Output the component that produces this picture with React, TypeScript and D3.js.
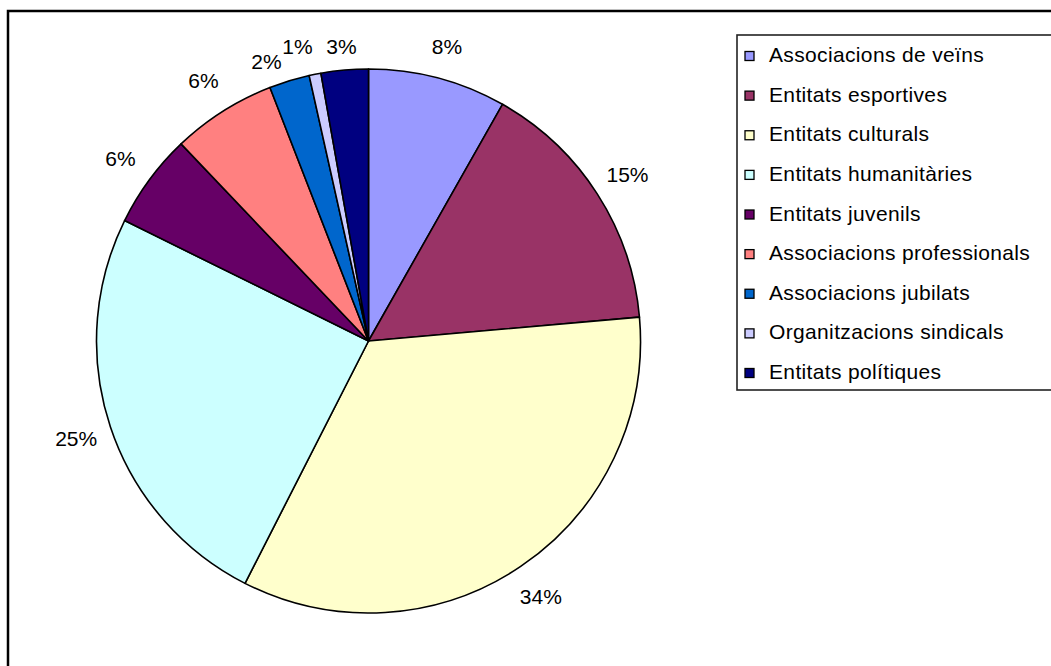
import React from "react";
import * as d3 from "d3";

const categories = [
  "Associacions de veïns",
  "Entitats esportives",
  "Entitats culturals",
  "Entitats humanitàries",
  "Entitats juvenils",
  "Associacions professionals",
  "Associacions jubilats",
  "Organitzacions sindicals",
  "Entitats polítiques",
];

const values = [8.2, 15.4, 33.9, 24.8, 5.6, 6.2, 2.4, 0.7, 2.8];

const colors = [
  "#9999FF",
  "#993366",
  "#FFFFCC",
  "#CCFFFF",
  "#660066",
  "#FF8080",
  "#0066CC",
  "#CCCCFF",
  "#000080",
];

const W = 1051;
const H = 666;
const cx = 368.5;
const cy = 341;
const R = 272;
const labelR = 308;
const labelTop = -294.5;
const FONT = "'Liberation Sans', Arial, Helvetica, sans-serif";

export default function App() {
  const total = d3.sum(values);
  const pie = d3
    .pie<number>()
    .sort(null)
    .value((d) => d)
    .startAngle(0)
    .endAngle(2 * Math.PI);
  const arcs = pie(values);
  const arcGen = d3.arc<d3.PieArcDatum<number>>().innerRadius(0).outerRadius(R);

  const legendY = d3
    .scaleLinear()
    .domain([0, categories.length - 1])
    .range([55, 372]);

  const labels = arcs.map((a, i) => {
    const mid = (a.startAngle + a.endAngle) / 2;
    const x = Math.sin(mid) * labelR;
    const y = Math.max(labelTop, -Math.cos(mid) * labelR);
    return { x, y, moved: false, text: Math.round((values[i] / total) * 100) + "%" };
  });
  // simple collision handling for crowded top labels
  for (let i = labels.length - 1; i > 0; i--) {
    const a = labels[i - 1];
    const b = labels[i];
    const dx = b.x - a.x;
    const dy = Math.abs(a.y - b.y);
    if (dy < 16 && dx < 42 && dx > -5) {
      if (dy < 1 && !b.moved) {
        a.x = b.x - 44;
      } else {
        a.y = b.y + 15;
        a.x = Math.min(a.x, b.x - 31);
      }
      a.moved = true;
    }
  }

  return (
    <svg
      width={W}
      height={H}
      style={{ position: "fixed", left: 0, top: 0, background: "#fff" }}
    >
      <rect x={0} y={0} width={W} height={H} fill="#fff" />
      <rect
        x={8}
        y={11}
        width={W + 50}
        height={H + 50}
        fill="none"
        stroke="#000"
        strokeWidth={2.5}
      />
      <g transform={`translate(${cx},${cy})`}>
        {arcs.map((a, i) => (
          <path
            key={i}
            d={arcGen(a) || ""}
            fill={colors[i]}
            stroke="#000"
            strokeWidth={1.6}
            strokeLinejoin="round"
          />
        ))}
        {labels.map((l, i) => (
          <text
            key={"l" + i}
            x={l.x}
            y={l.y}
            textAnchor="middle"
            dominantBaseline="central"
            fontFamily={FONT}
            fontSize={21}
            fill="#000"
          >
            {l.text}
          </text>
        ))}
      </g>
      <rect
        x={737}
        y={35}
        width={400}
        height={355}
        fill="#fff"
        stroke="#222"
        strokeWidth={1.6}
      />
      {categories.map((c, i) => {
        const y = legendY(i);
        return (
          <g key={"lg" + i}>
            <rect
              x={745}
              y={y - 3.5}
              width={9}
              height={9}
              fill={colors[i]}
              stroke="#000"
              strokeWidth={1.3}
            />
            <text
              x={769}
              y={y + 7}
              fontFamily={FONT}
              fontSize={21}
              letterSpacing={0.35}
              fill="#000"
            >
              {c}
            </text>
          </g>
        );
      })}
    </svg>
  );
}
